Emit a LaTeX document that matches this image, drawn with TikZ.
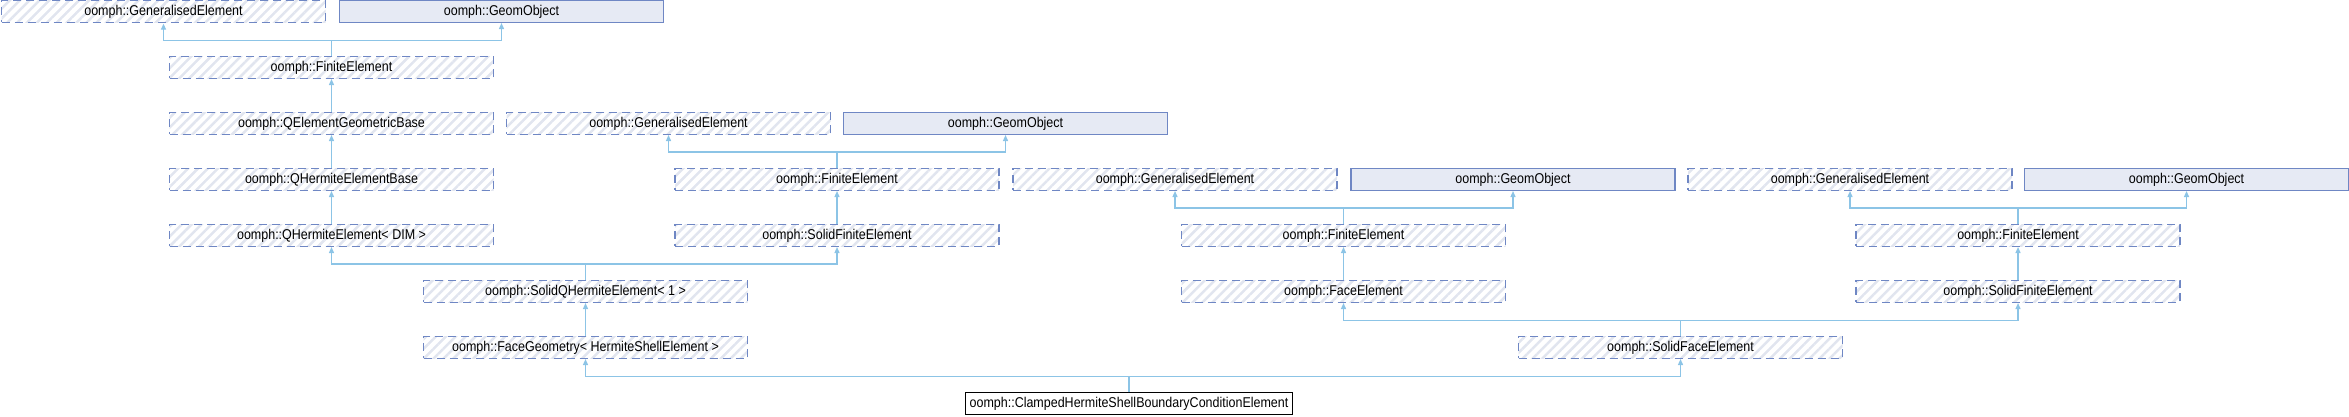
\documentclass[tikz,border=0pt]{standalone}
\usepackage{fontspec}
\setmainfont{Liberation Sans}[FakeStretch=0.88]
\usetikzlibrary{patterns.meta,arrows.meta}
\definecolor{edgec}{HTML}{8CC4E6}
\definecolor{bordc}{HTML}{6F87C4}
\definecolor{hatchc}{HTML}{E1E5EF}
\definecolor{gofill}{HTML}{E6EAF4}
\tikzset{
 cls/.style={minimum width=324pt, minimum height=21.8pt, inner sep=0pt, font=\fontsize{14.2}{17}\selectfont, line width=1.2pt},
 undoc/.style={cls, draw=bordc, dash pattern=on 8pt off 5pt, pattern={Lines[angle=45,distance=7pt,line width=2.5pt]}, pattern color=hatchc},
 docbox/.style={cls, draw=bordc, fill=gofill},
 cur/.style={cls, draw=black, fill=white, minimum width=327pt},
 inh/.style={draw=edgec, line width=1.3pt, -{Triangle[length=6pt,width=5pt]}},
}
\begin{document}
\begin{tikzpicture}[x=1pt,y=-1pt]
\useasboundingbox (0,0) rectangle (2349,416);
% row 0
\node[undoc] (ge1) at (163.5,11.5) {oomph::GeneralisedElement};
\node[docbox] (go1) at (501.5,11.5) {oomph::GeomObject};
% row 1
\node[undoc] (fe1) at (331.5,67.5) {oomph::FiniteElement};
% row 2
\node[undoc] (qegb) at (331.5,123.5) {oomph::QElementGeometricBase};
\node[undoc] (ge2) at (668.5,123.5) {oomph::GeneralisedElement};
\node[docbox] (go2) at (1005.5,123.5) {oomph::GeomObject};
% row 3
\node[undoc] (qheb) at (331.5,179.5) {oomph::QHermiteElementBase};
\node[undoc] (fe2) at (837,179.5) {oomph::FiniteElement};
\node[undoc] (ge3) at (1175,179.5) {oomph::GeneralisedElement};
\node[docbox] (go3) at (1513,179.5) {oomph::GeomObject};
\node[undoc] (ge4) at (1850,179.5) {oomph::GeneralisedElement};
\node[docbox] (go4) at (2186.5,179.5) {oomph::GeomObject};
% row 4
\node[undoc] (qhe) at (331.5,235.5) {oomph::QHermiteElement< DIM >};
\node[undoc] (sfe1) at (837,235.5) {oomph::SolidFiniteElement};
\node[undoc] (fe3) at (1343.5,235.5) {oomph::FiniteElement};
\node[undoc] (fe4) at (2018,235.5) {oomph::FiniteElement};
% row 5
\node[undoc] (sqh) at (585.5,291.5) {oomph::SolidQHermiteElement< 1 >};
\node[undoc] (face) at (1343.5,291.5) {oomph::FaceElement};
\node[undoc] (sfe2) at (2018,291.5) {oomph::SolidFiniteElement};
% row 6
\node[undoc] (fg) at (585.5,347.5) {oomph::FaceGeometry< HermiteShellElement >};
\node[undoc] (sface) at (1680.5,347.5) {oomph::SolidFaceElement};
% row 7
\node[cur] (cl) at (1129,403.5) {oomph::ClampedHermiteShellBoundaryConditionElement};
% joints
\coordinate (j1) at (0,40.5);
\coordinate (j2) at (0,152);
\coordinate (j3) at (0,208);
\coordinate (j4) at (0,264);
\coordinate (j5) at (0,320.5);
\coordinate (j6) at (0,376.5);
% edges
\draw[inh] (fe1.north) -- (fe1.north |- j1) -| (ge1.south);
\draw[inh] (fe1.north) -- (fe1.north |- j1) -| (go1.south);
\draw[inh] (qegb.north) -- (fe1.south);
\draw[inh] (qheb.north) -- (qegb.south);
\draw[inh] (qhe.north) -- (qheb.south);
\draw[inh] (fe2.north) -- (fe2.north |- j2) -| (ge2.south);
\draw[inh] (fe2.north) -- (fe2.north |- j2) -| (go2.south);
\draw[inh] (sfe1.north) -- (fe2.south);
\draw[inh] (sqh.north) -- (sqh.north |- j4) -| (qhe.south);
\draw[inh] (sqh.north) -- (sqh.north |- j4) -| (sfe1.south);
\draw[inh] (fg.north) -- (sqh.south);
\draw[inh] (fe3.north) -- (fe3.north |- j3) -| (ge3.south);
\draw[inh] (fe3.north) -- (fe3.north |- j3) -| (go3.south);
\draw[inh] (face.north) -- (fe3.south);
\draw[inh] (fe4.north) -- (fe4.north |- j3) -| (ge4.south);
\draw[inh] (fe4.north) -- (fe4.north |- j3) -| (go4.south);
\draw[inh] (sfe2.north) -- (fe4.south);
\draw[inh] (sface.north) -- (sface.north |- j5) -| (face.south);
\draw[inh] (sface.north) -- (sface.north |- j5) -| (sfe2.south);
\draw[inh] (cl.north) -- (cl.north |- j6) -| (fg.south);
\draw[inh] (cl.north) -- (cl.north |- j6) -| (sface.south);
\end{tikzpicture}
\end{document}
